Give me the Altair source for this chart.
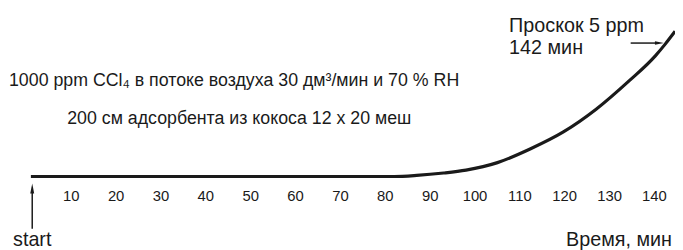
import altair as alt
import pandas as pd

# Breakthrough curve (time in min, concentration in ppm)
curve_time = [1, 82, 87, 93, 98, 105, 112.4, 119.7, 127, 134.4, 140.2, 142.4, 144.6]
curve_ppm = [0, 0, 0.04, 0.13, 0.24, 0.52, 1.04, 1.67, 2.52, 3.59, 4.52, 4.96, 5.44]

tick_values = [10, 20, 30, 40, 50, 60, 70, 80, 90, 100, 110, 120, 130, 140]
tick_labels = [str(v) for v in tick_values]

info_line1 = "1000 ppm CCl\u2084 в потоке воздуха 30 дм\u00b3/мин и 70 % RH"
info_line2 = "200 см адсорбента из кокоса 12 x 20 меш"
break_line1 = "Проскок 5 ppm"
break_line2 = "142 мин"
start_label = "start"
axis_title = "Время, мин"
breakthrough_time = 142
breakthrough_ppm = 5

FONT = "Liberation Sans"
INK = "#1a1a1a"
W, H = 675, 242

xs = alt.Scale(domain=[-4.10, 144.58], nice=False, zero=False)
ys = alt.Scale(domain=[-2.70, 6.26], nice=False, zero=False)

curve_df = pd.DataFrame({"t": curve_time, "c": curve_ppm})
tick_df = pd.DataFrame({"t": tick_values, "label": tick_labels})

curve = alt.Chart(curve_df).mark_line(
    color=INK, strokeWidth=3.2, interpolate="monotone", clip=False
).encode(x=alt.X("t:Q", scale=xs, axis=None), y=alt.Y("c:Q", scale=ys, axis=None))

ticks = alt.Chart(tick_df).mark_text(
    font=FONT, fontSize=15, color=INK, baseline="middle", align="center"
).encode(x=alt.X("t:Q", scale=xs), y=alt.datum(-0.74), text="label:N")


def label(text, x, y, align="left", size=20):
    return alt.Chart(pd.DataFrame({"s": [text]})).mark_text(
        font=FONT, fontSize=size, color=INK, align=align, baseline="middle"
    ).encode(x=alt.datum(x, scale=xs), y=alt.datum(y, scale=ys), text="s:N")


texts = [
    label(info_line1, -3.88, 3.59, size=18),
    label(info_line2, 9.1, 2.15, size=18),
    label(break_line1, 107.6, 5.63),
    label(break_line2, 107.6, 4.81),
    label(start_label, 1.3, -2.38, align="center"),
    label(axis_title, 143.9, -2.38, align="right"),
]

# start arrow (vertical, pointing up)
start_df = pd.DataFrame({"t": [1.3], "y1": [-1.96], "y2": [-0.55]})
start_shaft = alt.Chart(start_df).mark_rule(color=INK, strokeWidth=1.5).encode(
    x=alt.X("t:Q", scale=xs), y=alt.Y("y1:Q", scale=ys), y2="y2:Q"
)
start_head = alt.Chart(start_df).mark_point(
    shape="M0,-1L0.4,1L-0.4,1Z", filled=True, opacity=1, color=INK, size=100
).encode(x=alt.X("t:Q", scale=xs), y=alt.datum(-0.45, scale=ys))

# breakthrough arrow (horizontal, pointing right)
bt_df = pd.DataFrame({"t1": [134.7], "t2": [140.5], "c": [breakthrough_ppm]})
bt_shaft = alt.Chart(bt_df).mark_rule(color=INK, strokeWidth=1.5).encode(
    x=alt.X("t1:Q", scale=xs), x2="t2:Q", y=alt.Y("c:Q", scale=ys)
)
bt_head = alt.Chart(bt_df).mark_point(
    shape="M1,0L-1,-0.4L-1,0.4Z", filled=True, opacity=1, color=INK, size=81
).encode(x=alt.datum(breakthrough_time - 0.9, scale=xs), y=alt.Y("c:Q", scale=ys))

chart = alt.layer(
    curve, ticks, *texts, start_shaft, start_head, bt_shaft, bt_head
).properties(
    width=W, height=H, padding=0,
    autosize=alt.AutoSizeParams(type="none"),
    background="white",
).configure_view(stroke=None)

chart.save("out.html", embed_options={"renderer": "svg", "actions": False})
